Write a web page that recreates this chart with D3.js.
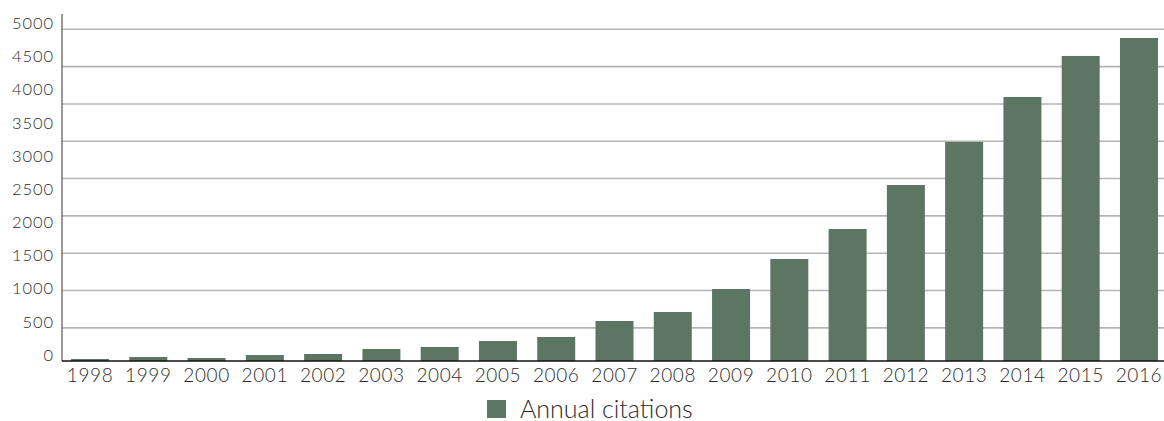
<!DOCTYPE html>
<html>
<head>
<meta charset="utf-8">
<script src="https://cdn.jsdelivr.net/npm/d3@7"></script>
<style>
  html, body { margin: 0; padding: 0; background: #fff; }
  svg { display: block; }
  text { font-family: "Lato", "Open Sans", sans-serif; font-weight: 300; fill: #2b2b2b; }
</style>
</head>
<body>
<svg id="chart" width="1164" height="421"></svg>
<script>
const years = ["1998","1999","2000","2001","2002","2003","2004","2005","2006","2007","2008","2009","2010","2011","2012","2013","2014","2015","2016"];
const citations = [30, 60, 45, 90, 106, 181, 211, 301, 362, 603, 739, 1085, 1538, 1990, 2653, 3301, 3980, 4598, 4869];
const yTicks = [0, 500, 1000, 1500, 2000, 2500, 3000, 3500, 4000, 4500, 5000];
const gridValues = [500, 1062.5, 1625, 2187.5, 2750, 3312.5, 3875, 4437.5, 5000];
const seriesName = "Annual citations";

const svg = d3.select("#chart");
const W = 1164;
const left = 62, baseY = 361, topY = 29.3;

const x = d3.scaleBand().domain(years).range([left, 1167]).paddingInner(0.348).paddingOuter(0.155);
const y = d3.scaleLinear().domain([0, 5000]).range([baseY, topY]);

// gridlines
svg.append("g").selectAll("line").data(gridValues).join("line")
  .attr("x1", left).attr("x2", W)
  .attr("y1", d => y(d)).attr("y2", d => y(d))
  .attr("stroke", "#b4b4b4").attr("stroke-width", 1.6);

// bars
svg.append("g").selectAll("rect").data(years).join("rect")
  .attr("x", d => x(d))
  .attr("width", x.bandwidth())
  .attr("y", (d, i) => y(citations[i]))
  .attr("height", (d, i) => baseY - y(citations[i]))
  .attr("fill", "#5d7563");

// y axis
const yAxis = d3.axisLeft(y).tickValues(yTicks).tickSize(0).tickPadding(8).tickFormat(d3.format("d"));
const gy = svg.append("g").attr("transform", `translate(${left},0)`).call(yAxis);
gy.select(".domain").remove();
gy.selectAll("text").attr("transform", "translate(0,-6)")
  .style("font-size", "16.5px").style("letter-spacing", "0.9px")
  .style("font-family", "Lato, sans-serif").attr("fill", "#2b2b2b");
svg.append("line").attr("x1", left).attr("x2", left).attr("y1", 14).attr("y2", baseY)
  .attr("stroke", "#555").attr("stroke-width", 1.2);

// x axis
const xAxis = d3.axisBottom(x).tickSize(0).tickPadding(8);
const gx = svg.append("g").attr("transform", `translate(0,${baseY})`).call(xAxis);
gx.select(".domain").remove();
gx.selectAll("text").style("font-size", "19px").style("letter-spacing", "0.6px")
  .style("font-family", "Lato, sans-serif").attr("fill", "#2b2b2b");
svg.append("line").attr("x1", left).attr("x2", W).attr("y1", baseY).attr("y2", baseY)
  .attr("stroke", "#111").attr("stroke-width", 1.5);

// legend
const lg = svg.append("g").attr("transform", "translate(487,400)");
lg.append("rect").attr("width", 19).attr("height", 18).attr("fill", "#5d7563");
lg.append("text").attr("x", 33).attr("y", 17.5).style("font-size", "25px").text(seriesName);
</script>
</body>
</html>
